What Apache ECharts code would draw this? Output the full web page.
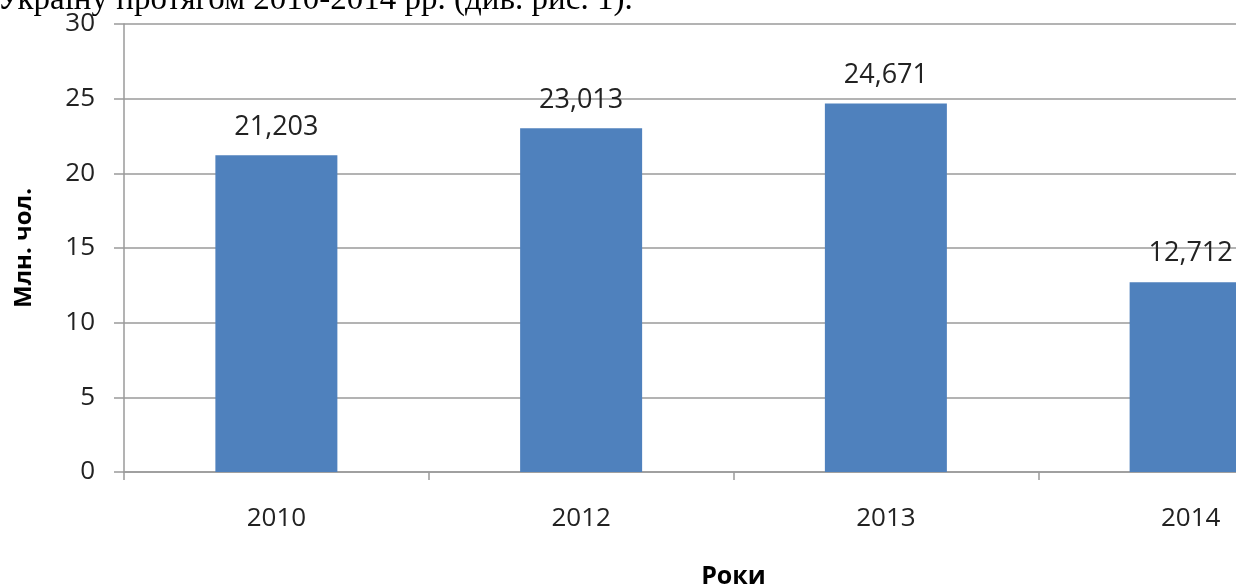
<!DOCTYPE html>
<html>
<head>
<meta charset="utf-8">
<script src="https://cdn.jsdelivr.net/npm/echarts@6/dist/echarts.min.js"></script>
<style>
html,body{margin:0;padding:0;background:#fff;overflow:hidden;}
#chart{width:1236px;height:588px;}
</style>
</head>
<body>
<div id="chart"></div>
<script>
const categories = ['2010', '2012', '2013', '2014'];
const values = [21.203, 23.013, 24.671, 12.712];
const yTicks = [0, 5, 10, 15, 20, 25, 30];
const yAxisTitle = 'Млн. чол.';
const xAxisTitle = 'Роки';
const topText = 'Україну протягом 2010-2014 рр. (див. рис. 1).';

const chart = echarts.init(document.getElementById('chart'));
const font = '"Open Sans", "DejaVu Sans", sans-serif';
chart.setOption({
  animation: false,
  backgroundColor: '#ffffff',
  grid: { left: 124, top: 24, height: 448, width: 1219, containLabel: false, outerBoundsMode: 'none' },
  graphic: [
    { type: 'text', x: -3, y: 17,
      style: { text: topText, font: '33px "Liberation Serif", "Times New Roman", serif', fill: '#000', verticalAlign: 'bottom' } }
  ],
  xAxis: {
    type: 'category',
    data: categories,
    name: xAxisTitle,
    nameLocation: 'middle',
    nameGap: 92,
    nameTextStyle: { fontFamily: font, fontSize: 25, fontWeight: 'bold', color: '#000' },
    axisLine: { show: true, lineStyle: { color: '#9a9a9a', width: 1.5 } },
    axisTick: { show: true, length: 8, lineStyle: { color: '#9a9a9a', width: 1.5 } },
    axisLabel: { fontFamily: font, fontSize: 26, color: '#222', margin: 34 },
    splitLine: { show: false }
  },
  yAxis: {
    type: 'value',
    min: 0, max: 30, interval: 5,
    name: yAxisTitle,
    nameLocation: 'middle',
    nameRotate: 90,
    nameGap: 88,
    nameTextStyle: { fontFamily: font, fontSize: 24, fontWeight: 'bold', color: '#000' },
    axisLine: { show: true, lineStyle: { color: '#9a9a9a', width: 1.5 } },
    axisTick: { show: true, length: 10, lineStyle: { color: '#9a9a9a', width: 1.5 } },
    axisLabel: { fontFamily: font, fontSize: 26, color: '#222', margin: 29,
      formatter: v => yTicks.includes(v) ? String(v) : '' },
    splitLine: { show: true, lineStyle: { color: '#9a9a9a', width: 1.5 } }
  },
  series: [{
    type: 'bar',
    data: values,
    barWidth: 122,
    itemStyle: { color: '#4f81bd' },
    label: {
      show: true, position: 'top', distance: 15,
      fontFamily: font, fontSize: 27, color: '#222',
      formatter: p => p.value.toFixed(3).replace('.', ',')
    }
  }]
});
</script>
</body>
</html>
